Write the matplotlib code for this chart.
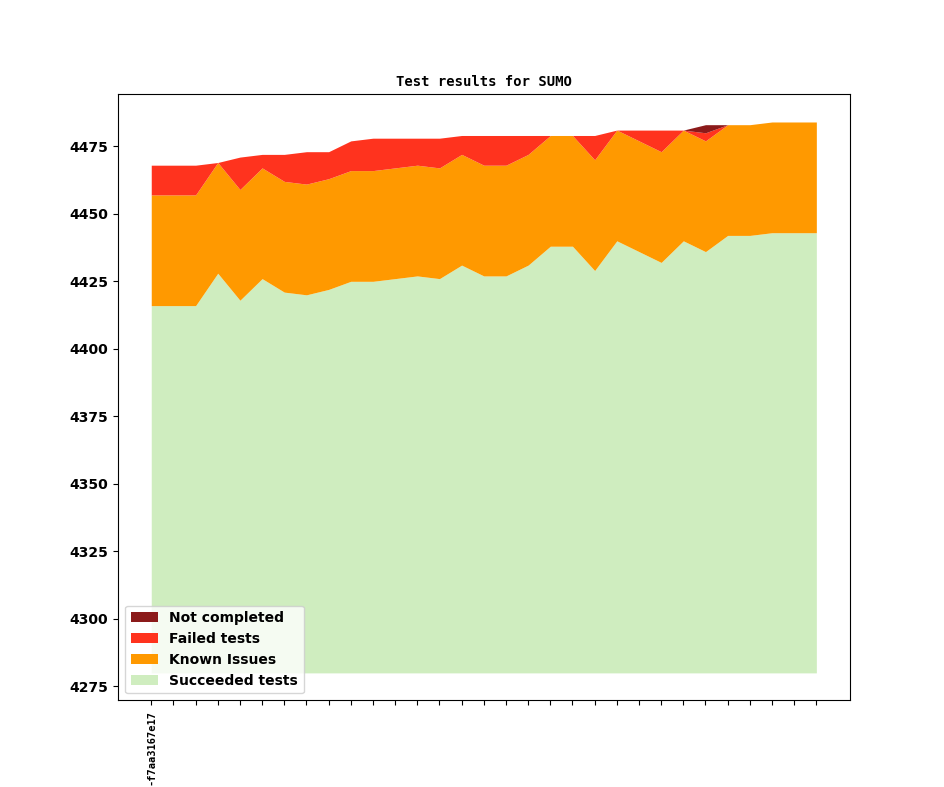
import numpy as np
import matplotlib
matplotlib.use("Agg")
import matplotlib.pyplot as plt

# ---------- Data ----------
base = 4280
succeeded = [4416, 4416, 4416, 4428, 4418, 4426, 4421, 4420, 4422, 4425,
             4425, 4426, 4427, 4426, 4431, 4427, 4427, 4431, 4438, 4438,
             4429, 4440, 4436, 4432, 4440, 4436, 4442, 4442, 4443, 4443,
             4443]
known_issues = [41] * 31
failed = [11, 11, 11, 0, 12, 5, 10, 12, 10, 11,
          12, 11, 10, 11, 7, 11, 11, 7, 0, 0,
          9, 0, 4, 8, 0, 3, 0, 0, 0, 0,
          0]
not_completed = [0] * 25 + [3] + [0] * 5
tick_labels = ["-f7aa3167e17"] + [""] * 30

labels = ["Succeeded tests", "Known Issues", "Failed tests", "Not completed"]
colors = ["#cfedbf", "#ff9900", "#ff331e", "#8b1a1a"]

# ---------- Stack ----------
x = np.arange(len(succeeded))
layers = [np.array(succeeded) - base, np.array(known_issues),
          np.array(failed), np.array(not_completed)]

fig, ax = plt.subplots(figsize=(9.44, 7.87), dpi=100)

bottom = np.full(len(x), float(base))
handles = []
for vals, lab, col in zip(layers, labels, colors):
    top = bottom + vals
    h = ax.fill_between(x, bottom, top, color=col, linewidth=0, label=lab)
    handles.append(h)
    bottom = top

ax.set_title("Test results for SUMO", fontsize=10, fontweight="bold",
             family="DejaVu Sans Mono")
ax.set_xticks(x)
ax.set_xticklabels(tick_labels, rotation=90, fontsize=7.5, fontweight="bold",
                   family="DejaVu Sans Mono")
for t in ax.get_yticklabels():
    t.set_fontweight("bold")
    t.set_fontsize(10)

ax.legend(handles[::-1], labels[::-1], loc="lower left",
          prop={"weight": "bold", "size": 10})

fig.savefig("out.png", dpi=100)
